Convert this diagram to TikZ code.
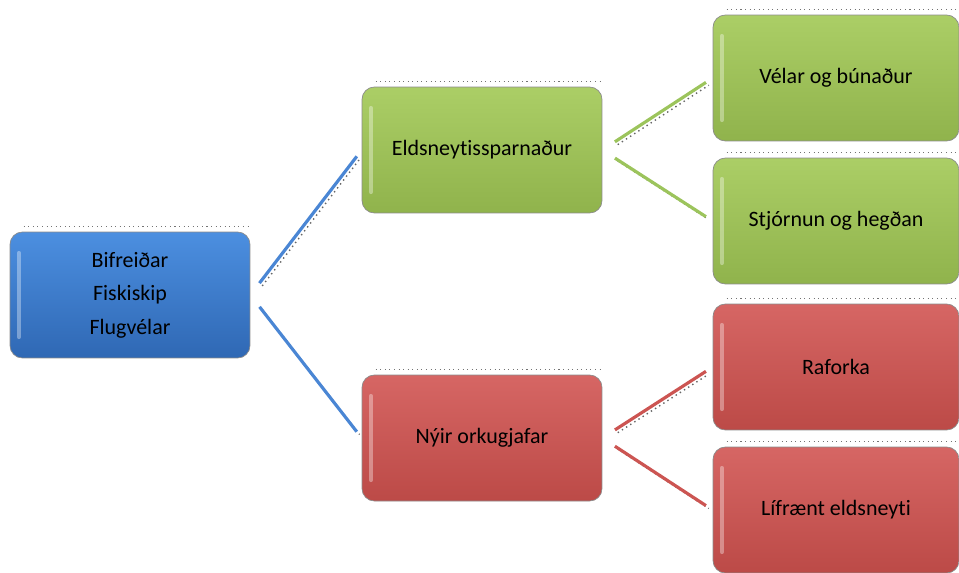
\documentclass[tikz,border=0pt]{standalone}
\usepackage{fontspec}
\setmainfont{Carlito}[Ligatures=CommonOff]
\usepackage{tikz}

\definecolor{bltop}{HTML}{4C8FE0}
\definecolor{blbot}{HTML}{2F68B4}
\definecolor{grtop}{HTML}{ABCE66}
\definecolor{grbot}{HTML}{90B34C}
\definecolor{rdtop}{HTML}{D66664}
\definecolor{rdbot}{HTML}{BC4A47}
\definecolor{blline}{HTML}{4A86D4}
\definecolor{grline}{HTML}{9CC45C}
\definecolor{rdline}{HTML}{CC5552}

\tikzstyle{box}=[rectangle,rounded corners=7pt,draw=black!45,minimum width=4.8cm,minimum height=2.52cm,font=\fontsize{12.5}{14}\selectfont,align=center,inner sep=0,
  path picture={\draw[white,opacity=0.35,line width=2.5pt,line cap=round]
    ([xshift=5pt,yshift=-12pt]path picture bounding box.north west) --
    ([xshift=5pt,yshift=12pt]path picture bounding box.south west);}]
\tikzstyle{bl}=[box,top color=bltop,bottom color=blbot]
\tikzstyle{gr}=[box,top color=grtop,bottom color=grbot]
\tikzstyle{rd}=[box,top color=rdtop,bottom color=rdbot]
\tikzstyle{link}=[line width=1.8pt,shorten <=0.3cm,shorten >=0.16cm,
  preaction={draw=black!60,dotted,line width=0.8pt,transform canvas={shift={(1.6pt,-1.6pt)}}}]

\begin{document}
\begin{tikzpicture}[x=0.02cm,y=-0.02cm]

    \useasboundingbox (0,0) rectangle (959,572);

                        \node[bl] (bif) at (130, 295) {Bifreiðar\\[5pt]Fiskiskip\\[5pt]Flugvélar};
                        \node[gr] (eld) at (482, 150) {Eldsneytissparnaður};
                        \node[rd] (nyi) at (482, 438) {Nýir orkugjafar};

                        \node[gr,minimum width=4.92cm] (vel) at (836, 78) {Vélar og búnaður};
                        \node[gr,minimum width=4.92cm] (stj) at (836, 221) {Stjórnun og hegðan};
                        \node[rd,minimum width=4.92cm] (raf) at (836, 367) {Raforka};
                        \node[rd,minimum width=4.92cm] (lif) at (836, 510) {Lífrænt eldsneyti};

                        % dotted edges above the boxes
                        \foreach \b in {bif,eld,nyi,vel,stj,raf,lif}
                          \draw[dotted,black!55,line width=0.6pt]
                            ([xshift=8pt,yshift=3pt]\b.north west) -- ([yshift=3pt]\b.north east);

                        \draw[link,blline] (bif.east) -- (eld.west);
                        \draw[link,blline] (bif.east) -- (nyi.west);
                        \draw[link,grline] (eld.east) -- (vel.west);
                        \draw[link,grline] (eld.east) -- (stj.west);
                        \draw[link,rdline] (nyi.east) -- (raf.west);
                        \draw[link,rdline] (nyi.east) -- (lif.west);

    \end{tikzpicture}
\end{document}
